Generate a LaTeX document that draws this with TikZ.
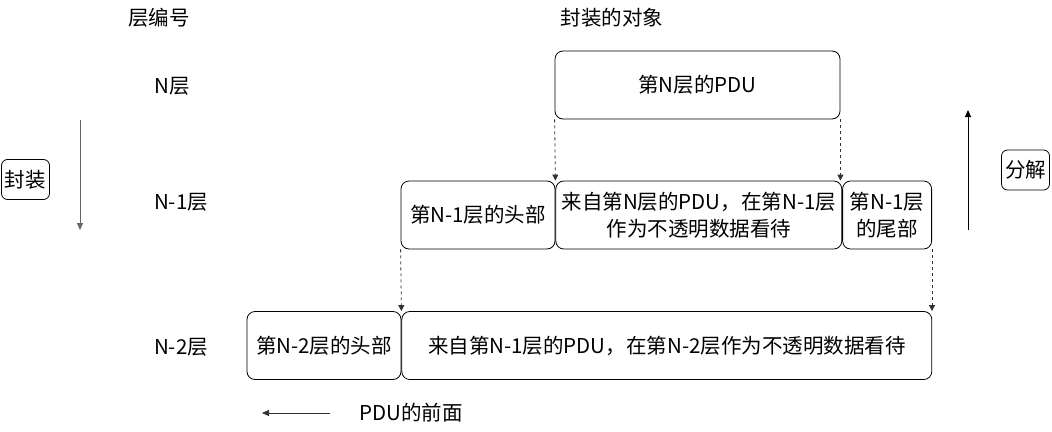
\documentclass[tikz,border=0pt]{standalone}
\usepackage{fontspec}
\setmainfont{Noto Sans CJK SC}
\usepackage{xcolor}
\usetikzlibrary{positioning,arrows.meta}
\definecolor{inkdark}{HTML}{000000}
\definecolor{dashgray}{HTML}{333333}
\definecolor{sidegray}{HTML}{666666}
\tikzset{
    pdubox/.style={
        draw=inkdark, rounded corners=8pt, line width=0.8pt,
        minimum height=68pt, inner sep=0pt,
        align=center
    },
    tagbox/.style={
        draw=inkdark, rounded corners=6pt, line width=0.8pt,
        minimum width=48pt, minimum height=40pt, inner sep=0pt
    },
    dasharrow/.style={-{Triangle[length=6pt, width=6pt]}, line width=0.8pt,
        dash pattern=on 3pt off 3pt, color=dashgray},
    arrow/.style={-{Triangle[length=7pt, width=6pt]}, line width=1pt},
}

\begin{document}
\begin{tikzpicture}[x=1pt, y=-1pt, node distance=0pt, every node/.style={font=\fontsize{20.5}{27}\selectfont}]
    \useasboundingbox (0,0) rectangle (1052,431);
    % column heads and level names
    \node (colnum) at (159,18) {层编号};
    \node (colobj) at (612,18) {封装的对象};
    \node (lvn) at (172,86) {N层};
    \node (lvn1) at (181,202) {N-1层};
    \node (lvn2) at (181,347) {N-2层};
    % the PDUs
    \node[pdubox, minimum width=285pt] (pdun) at (697.5,85) {第N层的PDU};
    \node[pdubox, minimum width=154pt] (hdr1) at (478,215) {第N-1层的头部};
    \node[pdubox, minimum width=286pt, right=of hdr1] (mid1) {来自第N层的PDU，在第N-1层\\作为不透明数据看待};
    \node[pdubox, minimum width=89pt, right=of mid1] (trl1) {第N-1层\\的尾部};
    \node[pdubox, minimum width=154pt] (hdr2) at (324,345.5) {第N-2层的头部};
    \node[pdubox, minimum width=530pt, right=of hdr2] (body2) {来自第N-1层的PDU，在第N-2层作为不透明数据看待};
    \draw[dasharrow] (pdun.south west) -- (mid1.north west);
    \draw[dasharrow] (pdun.south east) -- (pdun.south east |- mid1.north);
    \draw[dasharrow] (hdr1.south west) -- (body2.north west);
    \draw[dasharrow] (trl1.south east) -- (trl1.south east |- body2.north);
    % encapsulate / decapsulate
    \node[tagbox] (enc) at (25.5,179.5) {封装};
    \coordinate (encTop) at (80,120);
    \coordinate (encBot) at (80,230);
    \draw[arrow, sidegray] (encTop) -- (encBot);
    \node[tagbox] (dec) at (1025.5,170) {分解};
    \coordinate (decBot) at (968,230);
    \coordinate (decTop) at (968,110);
    \draw[arrow] (decBot) -- (decTop);
    % front of the PDU
    \node (front) at (411,413) {PDU的前面};
    \coordinate (frontR) at (330,413);
    \coordinate (frontL) at (262,413);
    \draw[arrow, line width=0.8pt, color=dashgray] (frontR) -- (frontL);
\end{tikzpicture}
\end{document}
